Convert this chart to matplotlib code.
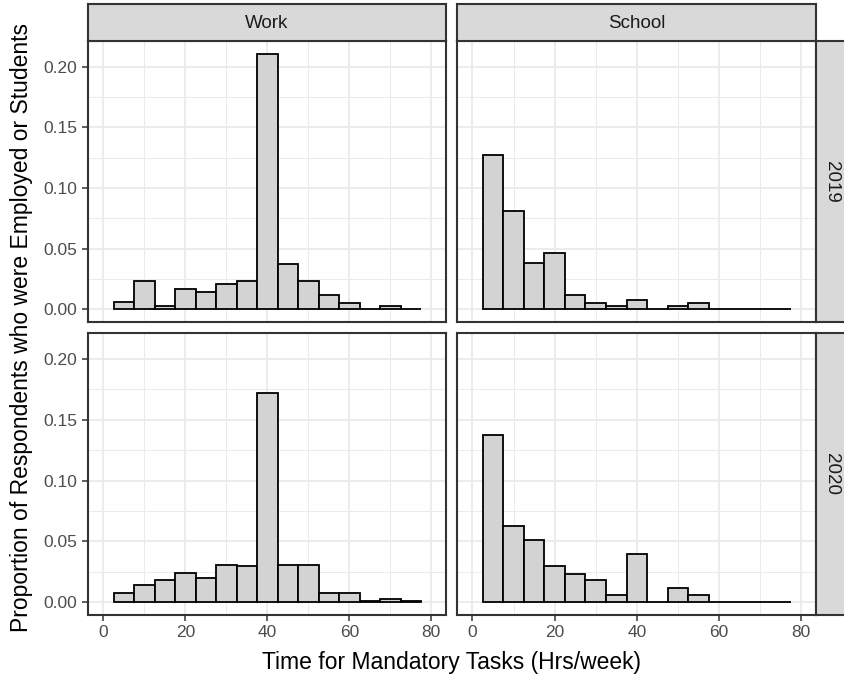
import matplotlib.pyplot as plt
import numpy as np

plt.rcParams['font.family'] = ['Liberation Sans', 'DejaVu Sans']

# histogram bins, width 5 hours, from 2.5 to 77.5
bin_left = np.arange(2.5, 77.5, 5)

work_2019 = [0.0063, 0.023, 0.0027, 0.017, 0.0143, 0.0206, 0.023, 0.2107,
             0.0371, 0.023, 0.0115, 0.0052, 0.0, 0.0027, 0.0]
school_2019 = [0.127, 0.081, 0.0385, 0.0464, 0.0115, 0.0052, 0.0027, 0.008,
               0.0, 0.0027, 0.0052, 0.0, 0.0, 0.0, 0.0]
work_2020 = [0.0074, 0.014, 0.0179, 0.0242, 0.0203, 0.0308, 0.0294, 0.1723,
             0.0308, 0.0308, 0.0074, 0.0074, 0.0011, 0.0027, 0.0014]
school_2020 = [0.137, 0.0626, 0.0514, 0.0294, 0.0228, 0.0179, 0.006, 0.0396,
               0.0, 0.0115, 0.006, 0.0, 0.0, 0.0, 0.0]

col_labels = ["Work", "School"]
row_labels = ["2019", "2020"]
data = [[work_2019, school_2019], [work_2020, school_2020]]

x_ticks = [0, 20, 40, 60, 80]
y_ticks = [0.00, 0.05, 0.10, 0.15, 0.20]

W, H = 845, 677
fig = plt.figure(figsize=(W / 100, H / 100), dpi=100)


def box(x0, y0, x1, y1):
    # pixel box (top-left origin) -> figure fraction rect
    return [x0 / W, 1 - y1 / H, (x1 - x0) / W, (y1 - y0) / H]


col_x = [(88, 446), (457, 816)]
row_y = [(41, 322), (333, 615)]
border = "#333333"

for i in range(2):
    for j in range(2):
        ax = fig.add_axes(box(col_x[j][0], row_y[i][0], col_x[j][1], row_y[i][1]))
        ax.set_xlim(-3.75, 83.6)
        ax.set_ylim(-0.0105, 0.2212)
        ax.set_xticks(x_ticks)
        ax.set_xticks([10, 30, 50, 70], minor=True)
        ax.set_yticks(y_ticks)
        ax.set_yticks([0.025, 0.075, 0.125, 0.175], minor=True)
        ax.grid(True, which="major", color="#EBEBEB", linewidth=1.3)
        ax.grid(True, which="minor", color="#EBEBEB", linewidth=0.7)
        ax.set_axisbelow(True)
        ax.bar(bin_left, data[i][j], width=5, align="edge", color="#D3D3D3",
               edgecolor="black", linewidth=1.3)
        for s in ax.spines.values():
            s.set_color(border)
            s.set_linewidth(1.5)
        ax.tick_params(which="minor", length=0)
        ax.tick_params(which="major", length=4.5, width=1.1, color=border,
                       labelcolor="#4D4D4D", labelsize=12.5, pad=3)
        if j == 0:
            ax.set_yticklabels([f"{v:.2f}" for v in y_ticks])
        else:
            ax.tick_params(axis="y", which="major", length=0, labelleft=False)
        if i == 1:
            ax.set_xticklabels([str(v) for v in x_ticks])
        else:
            ax.tick_params(axis="x", which="major", length=0, labelbottom=False)

# top strips
for j in range(2):
    sa = fig.add_axes(box(col_x[j][0], 4, col_x[j][1], 41))
    sa.set_facecolor("#D9D9D9")
    sa.set_xticks([])
    sa.set_yticks([])
    for s in sa.spines.values():
        s.set_color(border)
        s.set_linewidth(1.5)
    sa.text(0.5, 0.46, col_labels[j], ha="center", va="center",
            fontsize=13.5, color="#1A1A1A", transform=sa.transAxes)

# right strips
for i in range(2):
    sa = fig.add_axes(box(816, row_y[i][0], 848, row_y[i][1]))
    sa.set_facecolor("#D9D9D9")
    sa.set_xticks([])
    sa.set_yticks([])
    for s in sa.spines.values():
        s.set_color(border)
        s.set_linewidth(1.5)
    sa.text(0.47, 0.5, row_labels[i], ha="center", va="center", rotation=270,
            fontsize=13.5, color="#1A1A1A", transform=sa.transAxes)

fig.text(452 / W, 1 - 662 / H, "Time for Mandatory Tasks (Hrs/week)",
         ha="center", va="center", fontsize=16.5, color="black")
fig.text(22 / W, 1 - 327 / H,
         "Proportion of Respondents who were Employed or Students",
         ha="center", va="center", rotation=90, fontsize=16.5, color="black")

fig.savefig("out.png", dpi=100)
